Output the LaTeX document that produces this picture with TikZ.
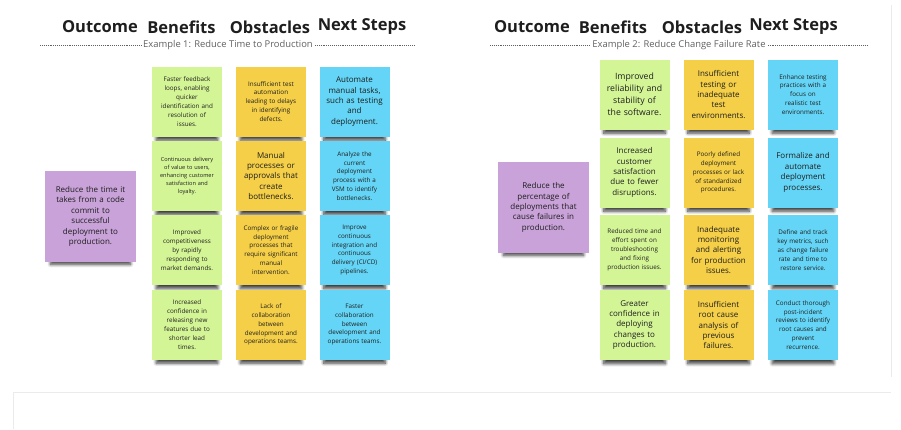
\documentclass[tikz,border=0pt]{standalone}
\usepackage{fontspec}
\setmainfont{Open Sans}
\usepackage{tikz}
\usetikzlibrary{shadows.blur}

\definecolor{stickygreen}{HTML}{D4F596}
\definecolor{stickyyellow}{HTML}{F5CF48}
\definecolor{stickyblue}{HTML}{64D5F6}
\definecolor{stickypurple}{HTML}{C8A2D8}
\definecolor{inkgray}{HTML}{1E1E1E}
\definecolor{subgray}{HTML}{606060}
\definecolor{framegray}{HTML}{EBEBEB}

\tikzset{
  sticky/.style={minimum width=70pt, minimum height=70pt, text width=66pt,
    align=center, inner sep=0pt, text=inkgray,
    blur shadow={shadow xshift=0pt, shadow yshift=-9pt, shadow scale=0.88,
      shadow opacity=75, shadow blur radius=3.5pt, shadow blur steps=8}},
  outcome/.style={sticky, fill=stickypurple, minimum width=91pt, minimum height=91pt, text width=80pt},
  benefit/.style={sticky, fill=stickygreen},
  obstacle/.style={sticky, fill=stickyyellow},
  nextstep/.style={sticky, fill=stickyblue},
  txtxl/.style={font=\fontsize{8.7}{12}\selectfont},
  txtl/.style={font=\fontsize{8}{10.4}\selectfont},
  txtm/.style={font=\fontsize{6.3}{8.9}\selectfont},
  txts/.style={font=\fontsize{5.6}{8}\selectfont},
  heading/.style={font=\fontsize{16.5}{18}\selectfont\bfseries, text=inkgray, inner sep=0pt},
  subtitle/.style={font=\fontsize{9.4}{11}\selectfont, text=subgray, inner sep=2pt},
  sepline/.style={draw=subgray, line width=0.6pt, dash pattern=on 0.6pt off 1.3pt}
}

\begin{document}
\begin{tikzpicture}[x=1pt,y=-1pt]
\useasboundingbox (0,0) rectangle (901,429);

% faint board frame
\draw[framegray, line width=0.8pt] (891,5) -- (891,377);
\draw[framegray, line width=0.8pt] (13,429) -- (13,392) -- (891,392);

% ---------- Example 1 ----------
\node[heading] (hOutA) at (100,27) {Outcome};
\node[heading] (hBenA) at (181.5,27) {Benefits};
\node[heading] (hObsA) at (270,27) {Obstacles};
\node[heading] (hNextA) at (362,27) {Next Steps};
\node[subtitle] (subA) at (228,45) {Example 1: Reduce Time to Production};
\coordinate (subAl) at (40,45);
\coordinate (subAr) at (414,45);
\draw[sepline] (subAl) -- (subA.west);
\draw[sepline] (subA.east) -- (subAr);

\node[outcome, txtl] (outA) at (90.5,216.5) {Reduce the time it\\takes from a code\\commit to\\successful\\deployment to\\production.};

\node[benefit, txtm] (benA1) at (187,101.5) {Faster feedback\\loops, enabling\\quicker\\identification and\\resolution of\\issues.};
\node[benefit, txts] (benA2) at (187,176) {Continuous delivery\\of value to users,\\enhancing customer\\satisfaction and\\loyalty.};
\node[benefit, txtm] (benA3) at (187,250) {Improved\\competitiveness\\by rapidly\\responding to\\market demands.};
\node[benefit, txtm] (benA4) at (187,324.5) {Increased\\confidence in\\releasing new\\features due to\\shorter lead\\times.};

\node[obstacle, txtm] (obsA1) at (271,101.5) {Insufficient test\\automation\\leading to delays\\in identifying\\defects.};
\node[obstacle, txtl] (obsA2) at (271,176) {Manual\\processes or\\approvals that\\create\\bottlenecks.};
\node[obstacle, txtm] (obsA3) at (271,250) {Complex or fragile\\deployment\\processes that\\require significant\\manual\\intervention.};
\node[obstacle, txtm] (obsA4) at (271,324.5) {Lack of\\collaboration\\between\\development and\\operations teams.};

\node[nextstep, txtl] (nxtA1) at (354.5,101.5) {Automate\\manual tasks,\\such as testing\\and\\deployment.};
\node[nextstep, txtm] (nxtA2) at (354.5,176) {Analyze the\\current\\deployment\\process with a\\VSM to identify\\bottlenecks.};
\node[nextstep, txtm] (nxtA3) at (354.5,250) {Improve\\continuous\\integration and\\continuous\\delivery (CI/CD)\\pipelines.};
\node[nextstep, txtm] (nxtA4) at (354.5,324.5) {Faster\\collaboration\\between\\development and\\operations teams.};

% ---------- Example 2 ----------
\node[heading] (hOutB) at (532,27) {Outcome};
\node[heading] (hBenB) at (613,27) {Benefits};
\node[heading] (hObsB) at (702,27) {Obstacles};
\node[heading] (hNextB) at (793.5,27) {Next Steps};
\node[subtitle] (subB) at (679,45) {Example 2: Reduce Change Failure Rate};
\coordinate (subBl) at (490,45);
\coordinate (subBr) at (868,45);
\draw[sepline] (subBl) -- (subB.west);
\draw[sepline] (subB.east) -- (subBr);

\node[outcome, txtl] (outB) at (543.5,207.5) {Reduce the\\percentage of\\deployments that\\cause failures in\\production.};

\node[benefit, txtxl] (benB1) at (634.5,94.5) {Improved\\reliability and\\stability of\\the software.};
\node[benefit, txtl] (benB2) at (634.5,172.5) {Increased\\customer\\satisfaction\\due to fewer\\disruptions.};
\node[benefit, txtm] (benB3) at (634.5,250) {Reduced time and\\effort spent on\\troubleshooting\\and fixing\\production issues.};
\node[benefit, txtl] (benB4) at (634.5,325) {Greater\\confidence in\\deploying\\changes to\\production.};

\node[obstacle, txtl] (obsB1) at (718.5,94.5) {Insufficient\\testing or\\inadequate\\test\\environments.};
\node[obstacle, txtm] (obsB2) at (718.5,172.5) {Poorly defined\\deployment\\processes or lack\\of standardized\\procedures.};
\node[obstacle, txtl] (obsB3) at (718.5,250) {Inadequate\\monitoring\\and alerting\\for production\\issues.};
\node[obstacle, txtl] (obsB4) at (718.5,325) {Insufficient\\root cause\\analysis of\\previous\\failures.};

\node[nextstep, txtm] (nxtB1) at (803,94.5) {Enhance testing\\practices with a\\focus on\\realistic test\\environments.};
\node[nextstep, txtl] (nxtB2) at (803,172.5) {Formalize and\\automate\\deployment\\processes.};
\node[nextstep, txtm] (nxtB3) at (803,250) {Define and track\\key metrics, such\\as change failure\\rate and time to\\restore service.};
\node[nextstep, txtm] (nxtB4) at (803,325) {Conduct thorough\\post-incident\\reviews to identify\\root causes and\\prevent\\recurrence.};

\end{tikzpicture}
\end{document}
